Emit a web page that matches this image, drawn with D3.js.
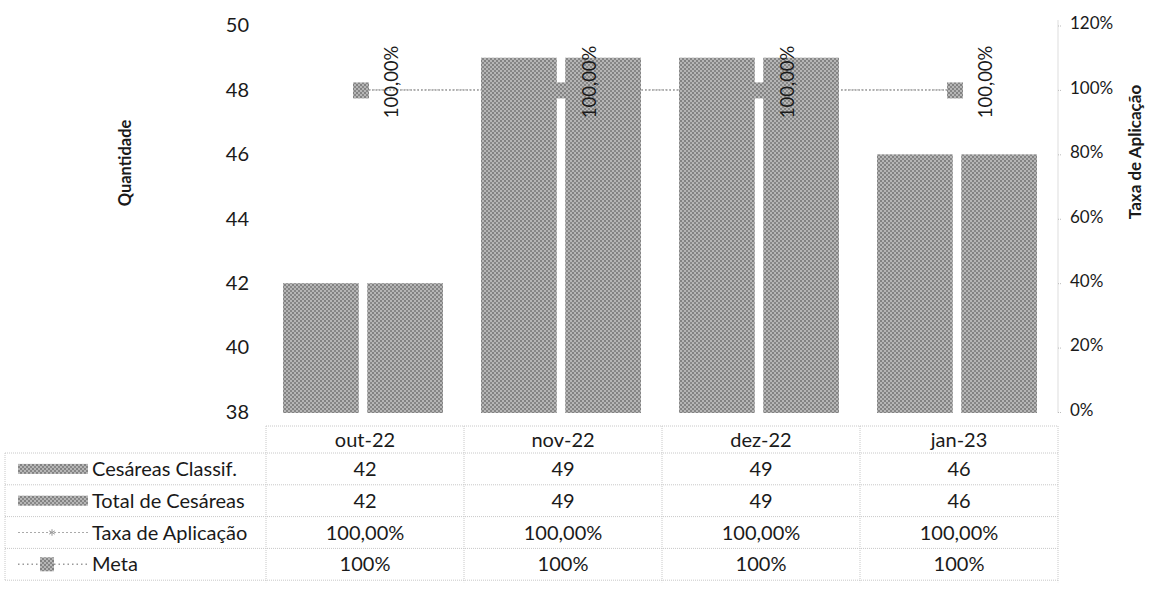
<!DOCTYPE html>
<html><head><meta charset="utf-8">
<script src="https://cdn.jsdelivr.net/npm/d3@7"></script>
<style>body{margin:0;background:#fff}svg{display:block}text{fill:#1a1a1a}</style>
</head><body><svg id="c" width="1159" height="596"></svg>
<script>
const categories = ["out-22","nov-22","dez-22","jan-23"];
const cesareasClassif = [42,49,49,46];
const totalCesareas = [42,49,49,46];
const taxaAplicacao = [1,1,1,1];
const meta = [1,1,1,1];
const leftTicks = [38,40,42,44,46,48,50];
const rightTicks = [0,0.2,0.4,0.6,0.8,1.0,1.2];
const seriesNames = ["Cesáreas Classif.","Total de Cesáreas","Taxa de Aplicação","Meta"];

(function(){
const FONT = "Lato, 'Open Sans', sans-serif";
const svg = d3.select("#c");
const defs = svg.append("defs");
const pat = defs.append("pattern").attr("id","dith").attr("width",4).attr("height",4).attr("patternUnits","userSpaceOnUse");
pat.append("rect").attr("width",4).attr("height",4).attr("fill","#b6b6b6");
pat.append("rect").attr("x",0).attr("y",0).attr("width",2).attr("height",2).attr("fill","#828282");
pat.append("rect").attr("x",2).attr("y",2).attr("width",2).attr("height",2).attr("fill","#878787");

const pLeft=266, pRight=1058, pTop=25.5, pBottom=412;
const x = d3.scaleBand(categories,[pLeft,pRight]);
const xs = d3.scaleBand([0,1],[17,177]).paddingInner(0.1);
const y = d3.scaleLinear([38,50],[pBottom,pTop]);
const y2 = d3.scaleLinear([0,1.2],[pBottom,pTop]);

const la = svg.append("g").attr("transform",`translate(${pLeft},0)`).call(d3.axisLeft(y).tickValues(leftTicks).tickSize(0).tickPadding(17));
la.select(".domain").remove();
la.selectAll("text").style("font-size","20px").style("font-family",FONT).attr("fill","#1a1a1a");
const ra = svg.append("g").attr("transform",`translate(${pRight},0)`).call(d3.axisRight(y2).tickValues(rightTicks).tickSize(4).tickPadding(8).tickFormat(d3.format(".0%")).tickSizeOuter(0));
ra.select(".domain").attr("stroke","#bbb").attr("stroke-dasharray","1,1").attr("d",`M0,${y2(1.2)-5}V${pBottom+1}`);
ra.selectAll(".tick line").attr("stroke","#bbb").attr("stroke-dasharray","1,1");
ra.selectAll("text").style("font-size","17px").style("font-family",FONT).attr("fill","#1a1a1a").attr("dy","0.2em");

svg.append("text").attr("transform","translate(131,163) rotate(-90)").attr("text-anchor","middle")
  .style("font-family",FONT).style("font-weight","bold").style("font-size","16.5px").text("Quantidade");
svg.append("text").attr("transform","translate(1141,152) rotate(-90)").attr("text-anchor","middle")
  .style("font-family",FONT).style("font-weight","bold").style("font-size","17px").text("Taxa de Aplicação");

const line = d3.line().x((d,i)=>x(categories[i])+x.bandwidth()/2).y(d=>y2(d));
svg.append("path").datum(meta).attr("d",line).attr("fill","none").attr("stroke","#999").attr("stroke-width",1.5).attr("stroke-dasharray","1.5,2");
svg.append("path").datum(taxaAplicacao).attr("d",line).attr("fill","none").attr("stroke","#aaa").attr("stroke-width",1).attr("stroke-dasharray","2,2");
svg.selectAll("rect.mk").data(meta).join("rect").attr("class","mk")
  .attr("x",(d,i)=>x(categories[i])+x.bandwidth()/2-12).attr("y",d=>y2(d)-7.5).attr("width",16).attr("height",16).attr("fill","url(#dith)");

[cesareasClassif,totalCesareas].forEach((arr,s)=>{
  svg.selectAll("rect.b"+s).data(arr).join("rect").attr("class","b"+s)
    .attr("x",(d,i)=>x(categories[i])+xs(s)).attr("width",xs.bandwidth())
    .attr("y",d=>y(d)).attr("height",d=>y(38)-y(d)+1).attr("fill","url(#dith)");
});

svg.selectAll("text.dl").data(taxaAplicacao).join("text").attr("class","dl")
  .attr("transform",(d,i)=>`translate(${x(categories[i])+x.bandwidth()/2+33},${y2(d)-8}) rotate(-90)`)
  .attr("text-anchor","middle").style("font-size","18.5px").style("font-family",FONT).text(d=>d3.format(".2f")(d*100).replace(".",",")+"%");

const tbl = svg.append("g").style("font-family",FONT);
const rowTop = 426, headH = 27, rowH = 31.8;
const rowY = i => rowTop+headH+i*rowH;
const grid = "#c8c8c8";
tbl.append("line").attr("x1",pLeft).attr("x2",pRight).attr("y1",rowTop).attr("y2",rowTop).attr("stroke",grid).attr("stroke-dasharray","1,1");
for(let i=0;i<=4;i++) tbl.append("line").attr("x1",5).attr("x2",pRight).attr("y1",rowY(i)).attr("y2",rowY(i)).attr("stroke",grid).attr("stroke-dasharray","1,1");
for(let i=0;i<=categories.length;i++){
  const xx = pLeft + i*x.step();
  tbl.append("line").attr("x1",xx).attr("x2",xx).attr("y1",rowTop).attr("y2",rowY(4)+2).attr("stroke",grid).attr("stroke-dasharray","1,1");
}
tbl.append("line").attr("x1",5).attr("x2",5).attr("y1",rowY(0)).attr("y2",rowY(4)).attr("stroke",grid).attr("stroke-dasharray","1,1");
categories.forEach(c=>tbl.append("text").attr("x",x(c)+x.bandwidth()/2).attr("y",rowTop+headH/2).attr("dy","0.35em").attr("text-anchor","middle").style("font-size","20px").text(c));
const rowVals = [cesareasClassif.map(String), totalCesareas.map(String),
  taxaAplicacao.map(d=>d3.format(".2f")(d*100).replace(".",",")+"%"), meta.map(d=>d3.format(".0%")(d))];
rowVals.forEach((vals,r)=>{
  const cy = rowY(r)+rowH/2;
  vals.forEach((v,i)=>tbl.append("text").attr("x",x(categories[i])+x.bandwidth()/2).attr("y",cy).attr("dy","0.35em").attr("text-anchor","middle").style("font-size","20px").text(v));
  tbl.append("text").attr("x",92).attr("y",cy).attr("dy","0.35em").style("font-size","20px").text(seriesNames[r]);
  if(r<2){
    tbl.append("rect").attr("x",18).attr("y",cy-5).attr("width",70).attr("height",10).attr("fill","url(#dith)");
  } else if(r===2){
    tbl.append("line").attr("x1",18).attr("x2",88).attr("y1",cy).attr("y2",cy).attr("stroke","#aaa").attr("stroke-dasharray","2,2");
    tbl.append("path").attr("d",d3.symbol(d3.symbolAsterisk||d3.symbolCross,30)()).attr("transform",`translate(52,${cy})`).attr("fill","none").attr("stroke","#999");
  } else {
    tbl.append("line").attr("x1",18).attr("x2",88).attr("y1",cy).attr("y2",cy).attr("stroke","#999").attr("stroke-width",1.5).attr("stroke-dasharray","1.5,3");
    tbl.append("rect").attr("x",40).attr("y",cy-7).attr("width",14).attr("height",14).attr("fill","url(#dith)");
  }
});
})();
</script></body></html>
